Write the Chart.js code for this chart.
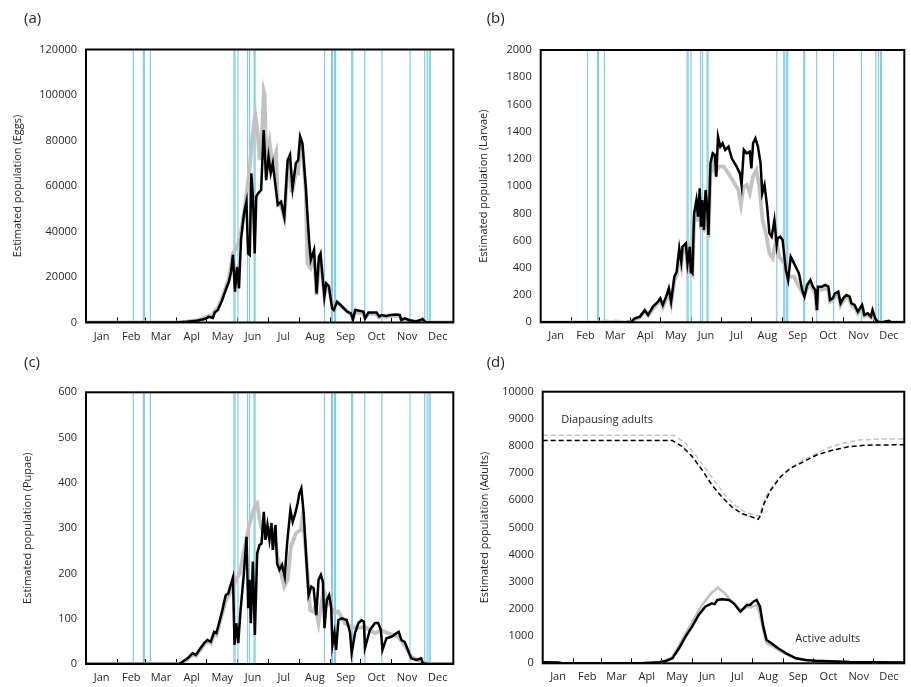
<!DOCTYPE html>
<html lang="en">
<head>
<meta charset="UTF-8">
<title>Estimated population</title>
<script src="https://cdn.jsdelivr.net/npm/chart.js@4.4.1/dist/chart.umd.min.js"></script>
<style>
    body { margin: 0; background: #fff; width: 911px; height: 687px; position: relative; overflow: hidden; }
    canvas { position: absolute; }
</style>
</head>
<body>
<canvas id="pa" width="460" height="343" style="left:0;top:0"></canvas>
<canvas id="pb" width="456" height="343" style="left:455px;top:0"></canvas>
<canvas id="pc" width="460" height="344" style="left:0;top:343px"></canvas>
<canvas id="pd" width="456" height="344" style="left:455px;top:343px"></canvas>
<script>
    const months = ['Jan', 'Feb', 'Mar', 'Apl', 'May', 'Jun', 'Jul', 'Aug', 'Sep', 'Oct', 'Nov', 'Dec'];
    const monthLen = [31, 28, 31, 30, 31, 30, 31, 31, 30, 31, 30, 31];
    // days with an event (blue vertical lines)
    const sprayDays = [47, 57, 58, 64, 147, 148, 151, 160.5, 162.5, 167, 168, 237, 244, 245, 247, 248,
        264, 265, 277, 294, 322, 336.5, 339, 341, 342];

    // [day, value]
    const eggsBlack = [[0, 0], [90, 0], [100, 300], [110, 800], [118, 1500], [122, 2500], [126, 2000], [128, 4500],
        [131, 5500], [135, 9500], [139, 14500], [142, 18000], [144, 22000], [146, 29700], [148, 13500], [150, 24500],
        [152, 15000], [154, 36300], [157, 48000], [159.4, 53100], [161, 30400], [162.7, 29700], [164.3, 65600],
        [166, 53800], [167.6, 30400], [169.2, 55300], [171, 56800], [174, 58200], [176.5, 84600], [179, 62600],
        [181.4, 72900], [183.5, 65600], [185.6, 70000], [188, 61000], [190.5, 51700], [193.8, 53100], [197, 46500],
        [200.3, 71400], [202.6, 73600], [205.2, 59000], [208.5, 70000], [210.8, 71400], [212.8, 81700], [215, 78800],
        [218.3, 59700], [221.6, 36300], [223.3, 27500], [226.5, 31800], [229.1, 12800], [231.4, 28900], [233, 30400],
        [236.8, 11300], [238.6, 17200], [241.3, 16000], [244.5, 6200], [246.2, 5500], [249.4, 9100], [252.7, 7800],
        [259.3, 4800], [263.2, 4000], [265.2, 1400], [267.5, 5500], [275.6, 4800], [277.3, 1800], [280.6, 4400],
        [288.7, 4400], [291.3, 2600], [293.6, 3300], [298.5, 2900], [301.8, 3300], [308.3, 3500], [311.6, 3300],
        [313.3, 1100], [316.6, 1800], [321.5, 1000], [328, 500], [334.5, 1500], [337.8, 0], [365, 0]];
    const eggsGray = [[0, 0], [90, 0], [100, 400], [110, 1000], [118, 2000], [122, 3000], [126, 3000], [128, 5000],
        [131, 6500], [135, 10500], [139, 15500], [142, 19500], [144, 24000], [146, 30500], [148, 31800], [150, 33000],
        [152, 36000], [154, 40000], [157, 48000], [159, 55000], [161, 62000], [163, 70000], [165, 80000], [167, 88000],
        [168.3, 91200], [170, 86000], [172.5, 71400], [174.5, 80000], [176.7, 101500], [177.5, 100000], [179, 71400],
        [182.3, 79500], [185, 70000], [188.9, 75000], [190.5, 52400], [193.8, 51000], [197, 46000], [200.3, 68000],
        [202.6, 72000], [204, 58000], [205.2, 58000], [208.5, 66000], [210.8, 65600], [212.8, 80000], [215, 77000],
        [218.3, 58000], [220, 26000], [223, 24000], [226.5, 30000], [229.1, 12100], [231.4, 26000], [233, 28000],
        [236.8, 12000], [238.6, 16000], [241.3, 15000], [244.5, 8000], [246.2, 8000], [249.4, 9000], [252.7, 7500],
        [259.3, 5000], [263.2, 3500], [265.2, 2000], [267.5, 4500], [275.6, 4000], [277.3, 2000], [280.6, 3800],
        [288.7, 3800], [291.3, 2200], [293.6, 2800], [298.5, 2500], [301.8, 2800], [308.3, 3000], [311.6, 2800],
        [313.3, 1200], [316.6, 1500], [321.5, 800], [328, 400], [334.5, 1000], [337.8, 0], [365, 0]];

    const larvaeBlack = [[0, 0], [85, 0], [91, 5], [94.6, 29], [99.6, 42], [104.5, 90], [107.8, 54], [112.7, 115],
        [117.7, 152], [120, 176], [122.6, 127], [125.9, 188], [128.6, 250], [130.9, 152], [134.2, 335], [136.5, 372],
        [139.1, 543], [141.1, 445], [142.4, 555], [145.7, 580], [147.4, 433], [149.7, 555], [150.7, 372], [152.3, 360],
        [154, 800], [156.3, 898], [157.9, 776], [159.6, 984], [160.9, 702], [162.2, 898], [163.8, 678], [165.5, 972],
        [167.1, 850], [168.4, 641], [170.4, 1168], [172.7, 1241], [174.7, 1229], [176.3, 1070], [178, 1364],
        [180.3, 1290], [182.6, 1315], [185.2, 1266], [188.5, 1290], [191.8, 1204], [196.7, 1143], [200, 1094],
        [201.6, 1009], [203.9, 1266], [206.6, 1241], [209.9, 1253], [211.5, 1131], [213.2, 1315], [215.5, 1351],
        [218.1, 1290], [220.7, 1168], [222.4, 947], [224.7, 1009], [227.3, 850], [229.6, 654], [231.9, 629],
        [234.6, 752], [236.9, 568], [237.9, 617], [240.5, 629], [242.8, 605], [246.1, 384], [248.4, 311], [251, 482],
        [254.3, 433], [259.2, 360], [262.5, 237], [264.8, 188], [267.4, 274], [270.7, 311], [273.3, 262],
        [275.6, 237], [277.3, 90], [278.3, 262], [282.2, 262], [285.5, 274], [288.8, 262], [290.4, 164], [293.1, 176],
        [295.4, 213], [298.7, 225], [301, 140], [303.6, 176], [306.9, 200], [310.2, 188], [311.8, 140], [315.1, 127],
        [318.4, 78], [322.6, 127], [324.9, 54], [328.2, 66], [331.5, 42], [333.1, 90], [335.8, 29], [338.1, 5],
        [343, 0], [349.6, 10], [352, 0], [365, 0]];
    const larvaeGray = [[0, 0], [60, 0], [65, 8], [70, 0], [75, 6], [85, 0], [91, 5], [94.6, 25], [99.6, 35],
        [104.5, 80], [107.8, 50], [112.7, 100], [117.7, 140], [120, 160], [122.6, 110], [125.9, 170], [128.6, 225],
        [130.9, 140], [134.2, 310], [136.5, 340], [139.1, 500], [141.1, 420], [142.4, 520], [145.7, 550], [147.4, 420],
        [149.7, 520], [150.7, 360], [152.3, 350], [154, 760], [156.3, 840], [157.9, 740], [159.6, 920], [160.9, 680],
        [162.2, 860], [163.8, 660], [165.5, 920], [167.1, 820], [168.4, 620], [170.4, 1100], [172.7, 1160],
        [175.3, 1094], [178.6, 1143], [183.6, 1143], [188.5, 1094], [193.5, 1033], [198.4, 972], [201, 862],
        [203.5, 996], [207, 1009], [209.9, 947], [213, 1070], [216.5, 1119], [219.5, 996], [222.7, 752], [226, 654],
        [229.6, 507], [232.9, 470], [236.2, 605], [239.5, 482], [244.4, 433], [249.4, 335], [254.3, 335],
        [259.2, 262], [264.1, 200], [267.4, 250], [270.7, 290], [273.3, 240], [275.6, 215], [277.3, 80], [278.3, 240],
        [282.2, 240], [285.5, 250], [288.8, 240], [290.4, 150], [293.1, 160], [295.4, 195], [298.7, 205], [301, 125],
        [303.6, 160], [306.9, 185], [310.2, 170], [311.8, 125], [315.1, 110], [318.4, 65], [322.6, 110], [324.9, 45],
        [328.2, 55], [331.5, 35], [333.1, 75], [335.8, 20], [338.1, 3], [343, 0], [365, 0]];

    const pupaeBlack = [[0, 0], [92.7, 0], [96, 5], [101, 12.5], [105.9, 23.6], [109.2, 20], [112.5, 31], [117.4, 46],
        [120.7, 53], [124, 49], [127.3, 71], [129.6, 68], [132.2, 90], [135.5, 119], [138.8, 152], [141.4, 156],
        [143.7, 174], [146, 191], [147.6, 42], [149.3, 90], [151.3, 46], [153.6, 119], [156.9, 200], [159.5, 281],
        [161.2, 123], [162.5, 186], [163.8, 90], [165.8, 226], [167.8, 64], [170.1, 244], [172.4, 263], [174.4, 266],
        [176.7, 336], [178.3, 274], [180.3, 307], [182.3, 274], [184.3, 311], [185.6, 252], [188.3, 307], [189.9, 222],
        [192.2, 208], [194.8, 219], [197.5, 193], [199.8, 266], [203.1, 340], [205.4, 314], [208, 333], [210.3, 355],
        [212, 377], [214, 388], [216.3, 333], [218.6, 244], [221.2, 152], [223.9, 171], [226.2, 167], [228.8, 108],
        [231.1, 186], [233.4, 197], [235.4, 182], [237, 79], [239.3, 141], [241.6, 152], [243.6, 127], [244.9, 42],
        [246.9, 68], [248.5, 31], [250.8, 97], [254.1, 101], [259, 97], [262.3, 71], [264, 24], [267.3, 68],
        [270.6, 90], [273.9, 97], [276.2, 93], [277.2, 35], [282.1, 75], [287, 90], [290.3, 91], [293, 75],
        [294.6, 31], [298.6, 57], [303.5, 60], [308.4, 68], [310.7, 71], [313.4, 53], [316.6, 49], [319.9, 31],
        [323.2, 12.5], [328.2, 9], [333.1, 12.5], [334.7, 1.5], [339.7, 0], [365, 0]];
    const pupaeGray = [[0, 0], [92.7, 0], [96, 4], [101, 11], [105.9, 21], [109.2, 18], [112.5, 28], [117.4, 43],
        [120.7, 50], [124, 46], [127.3, 66], [129.6, 64], [132.2, 85], [135.5, 112], [138.8, 140], [141.4, 148],
        [144, 160], [147, 175], [150, 190], [153, 200], [156, 240], [159, 270], [161.8, 303], [165, 330], [168, 350],
        [170, 355], [172.4, 320], [174, 303], [177.3, 281], [180.6, 285], [184, 303], [187.3, 280], [190, 240],
        [193.9, 200], [197, 171], [200.3, 185], [203.6, 259], [208.6, 289], [213.5, 296], [215.2, 325], [218.6, 244],
        [222.7, 119], [226, 115], [227.7, 127], [231, 90], [236, 163], [240.9, 135], [247.5, 112], [250.8, 116],
        [257.4, 90], [264, 82], [270.6, 79], [277.2, 82], [287, 68], [293.6, 75], [300.2, 68], [310, 60],
        [316.6, 42], [323.2, 16], [330, 8], [339.7, 0], [365, 0]];

    const diapBlack = [[0, 8200], [131, 8200], [141.1, 7975], [151, 7610], [160.9, 7120], [170.8, 6565],
        [180.7, 6135], [190.6, 5770], [200.5, 5520], [210.4, 5400], [217.5, 5300], [220, 5450], [223.6, 5890],
        [230.3, 6380], [240.2, 6870], [250.1, 7180], [263.3, 7420], [276.6, 7670], [293.1, 7850], [309.6, 7975],
        [326.1, 8030], [365, 8050]];
    const diapGray = [[0, 8400], [132, 8400], [144.4, 8100], [154.3, 7670], [164.2, 7180], [174.1, 6690],
        [184, 6200], [193.9, 5830], [203.8, 5580], [213.7, 5460], [218.5, 5420], [221, 5700], [225.3, 6135],
        [233.5, 6630], [243.4, 7000], [256.6, 7360], [270, 7610], [286.5, 7915], [303, 8100], [319.4, 8220],
        [340, 8260], [365, 8260]];
    const activeBlack = [[0, 40], [15, 30], [20, 0], [100, 0], [118, 40], [124.4, 86], [131, 184], [137.6, 552],
        [144.2, 982], [150.8, 1350], [157.5, 1780], [164.1, 2086], [170.7, 2208], [173.5, 2180], [176.3, 2330],
        [181.3, 2356], [187.9, 2331], [192.9, 2208], [199.5, 1900], [202.8, 2025], [206.1, 2147], [209.4, 2147],
        [212.7, 2270], [216, 2331], [219.4, 2086], [222.7, 1350], [226, 859], [231, 736], [237.6, 552], [245.8, 368],
        [255.7, 184], [265.6, 123], [275.5, 98], [310, 50], [365, 25]];
    const activeGray = [[0, 40], [15, 30], [20, 0], [100, 0], [118, 50], [124.4, 110], [131, 240], [137.6, 650],
        [144.2, 1100], [150.8, 1500], [157.5, 1950], [164.1, 2300], [170.7, 2600], [174, 2700], [177, 2800],
        [179, 2720], [184, 2577], [190, 2300], [195, 2150], [199.5, 1950], [203, 2000], [206.1, 2086], [209.4, 2050],
        [213, 2100], [216, 2147], [219.4, 1800], [222.7, 1200], [226, 750], [231, 650], [237.6, 500], [245.8, 330],
        [255.7, 170], [265.6, 115], [275.5, 90], [310, 45], [365, 25]];

    const INK = '#231f20';
    const GRAY = '#c3c1c1';
    const BLUE = '#7dcfe1';
    const FONT = "'Open Sans', 'Noto Sans', sans-serif";

    let edges = [0];
    monthLen.forEach(n => edges.push(edges[edges.length - 1] + n));
    const boundaries = edges.slice(1, 12);
    const mids = months.map((m, i) => (edges[i] + edges[i + 1]) / 2);

    function series(pairs, color, width, dash) {
        return {
            data: pairs.map(p => ({x: p[0], y: p[1]})),
            borderColor: color,
            borderWidth: width,
            borderDash: dash || [],
            pointRadius: 0,
            tension: 0,
            fill: false
        };
    }

    function frame(cfg) {
        return {
            id: 'frame',
            afterDraw(chart) {
                const {ctx, chartArea: a} = chart;
                ctx.save();
                ctx.strokeStyle = '#000';
                ctx.lineWidth = 2;
                ctx.strokeRect(a.left, a.top, a.right - a.left, a.bottom - a.top);
                ctx.fillStyle = INK;
                ctx.textBaseline = 'middle';
                ctx.font = '15px ' + FONT;
                ctx.fillText(cfg.label, cfg.lx, cfg.ly);
                ctx.font = '11px ' + FONT;
                (cfg.notes || []).forEach(n => {
                    ctx.fillText(n.text, chart.scales.x.getPixelForValue(n.day), chart.scales.y.getPixelForValue(n.value));
                });
                ctx.restore();
            }
        };
    }

    function panel(id, cfg) {
        let datasets = cfg.lines.slice();
        if (cfg.sprays) {
            sprayDays.forEach(d => datasets.push(series([[d, 0], [d, cfg.max]], BLUE, 1.2)));
        }
        new Chart(document.getElementById(id), {
            type: 'line',
            data: {datasets: datasets},
            options: {
                responsive: false,
                animation: false,
                layout: {padding: {left: 0, top: cfg.top, right: cfg.right, bottom: 0}},
                plugins: {legend: {display: false}, tooltip: {enabled: false}},
                scales: {
                    x: {
                        type: 'linear', min: 0, max: 365,
                        afterBuildTicks: s => {
                            s.ticks = boundaries.concat(mids).sort((a, b) => a - b).map(v => ({value: v}));
                        },
                        afterFit: s => { s.height = cfg.xh; },
                        border: {display: false},
                        grid: {
                            drawOnChartArea: false, drawTicks: true, tickLength: -5, lineWidth: 1,
                            color: c => (c.tick && boundaries.includes(c.tick.value)) ? '#000' : 'rgba(0,0,0,0)'
                        },
                        ticks: {
                            autoSkip: false, maxRotation: 0, padding: 12.4, color: INK,
                            font: {family: FONT, size: 11},
                            callback: v => {
                                const i = mids.indexOf(v);
                                return i < 0 ? '' : months[i];
                            }
                        }
                    },
                    y: {
                        min: 0, max: cfg.max,
                        afterFit: s => { s.width = cfg.yw; },
                        border: {display: false},
                        grid: {display: false, drawTicks: false},
                        ticks: {stepSize: cfg.step, padding: 9, color: INK, font: {family: FONT, size: 11},
                            callback: v => String(v)},
                        title: {
                            display: true, text: cfg.title, color: INK,
                            font: {family: FONT, size: 11},
                            padding: {top: cfg.tx - 6.6, bottom: 0}
                        }
                    }
                }
            },
            plugins: [frame(cfg)]
        });
    }

    panel('pa', {
        top: 49.5, right: 2.3, xh: 20.5, yw: 86, max: 120000, step: 20000,
        title: 'Estimated population (Eggs)', tx: 18, label: '(a)', lx: 24, ly: 19, sprays: true,
        lines: [series(eggsBlack, '#000', 2.5), series(eggsGray, GRAY, 3.8)]
    });
    panel('pb', {
        top: 50, right: 0.5, xh: 20.7, yw: 85.7, max: 2000, step: 200,
        title: 'Estimated population (Larvae)', tx: 29, label: '(b)', lx: 31.7, ly: 19, sprays: true,
        lines: [series(larvaeBlack, '#000', 2.5), series(larvaeGray, GRAY, 3.8)]
    });
    panel('pc', {
        top: 49.3, right: 4, xh: 23, yw: 86, max: 600, step: 100,
        title: 'Estimated population (Pupae)', tx: 28, label: '(c)', lx: 24, ly: 19.5, sprays: true,
        lines: [series(pupaeBlack, '#000', 2.5), series(pupaeGray, GRAY, 3.8)]
    });
    panel('pd', {
        top: 48.7, right: 0, xh: 23.7, yw: 87.7, max: 10000, step: 1000,
        title: 'Estimated population (Adults)', tx: 30, label: '(d)', lx: 31.7, ly: 20, sprays: false,
        notes: [{text: 'Diapausing adults', day: 18.8, value: 8950}, {text: 'Active adults', day: 255, value: 900}],
        lines: [series(activeBlack, '#000', 2.5), series(diapBlack, '#000', 1.5, [5, 3]),
            series(activeGray, GRAY, 2.6), series(diapGray, GRAY, 1.5, [5, 3])]
    });
</script>
</body>
</html>
